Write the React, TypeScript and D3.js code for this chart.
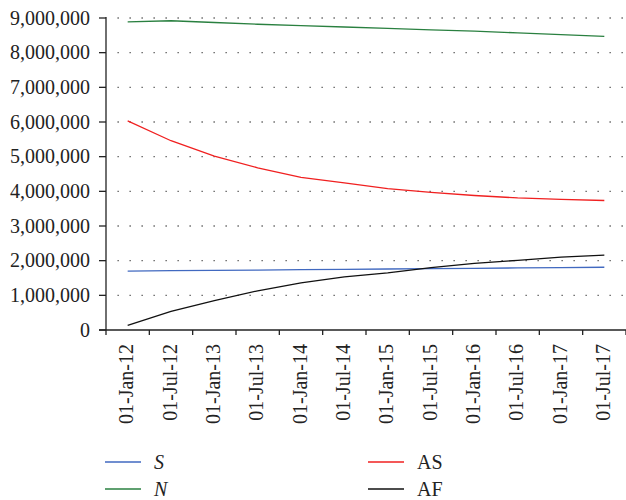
import React from 'react';
import * as d3 from 'd3';

const dates = [
  '01-Jan-12', '01-Jul-12', '01-Jan-13', '01-Jul-13', '01-Jan-14', '01-Jul-14',
  '01-Jan-15', '01-Jul-15', '01-Jan-16', '01-Jul-16', '01-Jan-17', '01-Jul-17',
];

const sValues = [1700000, 1710000, 1720000, 1730000, 1740000, 1750000, 1760000, 1770000, 1780000, 1790000, 1800000, 1810000];
const nValues = [8890000, 8920000, 8870000, 8820000, 8780000, 8740000, 8700000, 8660000, 8620000, 8570000, 8520000, 8470000];
const asValues = [6035000, 5460000, 5016000, 4680000, 4400000, 4245000, 4080000, 3970000, 3880000, 3810000, 3770000, 3735000];
const afValues = [135000, 540000, 850000, 1130000, 1360000, 1530000, 1650000, 1800000, 1920000, 2010000, 2100000, 2160000];

const yTicks = [0, 1000000, 2000000, 3000000, 4000000, 5000000, 6000000, 7000000, 8000000, 9000000];

const series = [
  { name: 'S', values: sValues, color: '#4169c0', italic: true },
  { name: 'N', values: nValues, color: '#2a8040', italic: true },
  { name: 'AS', values: asValues, color: '#f02020', italic: false },
  { name: 'AF', values: afValues, color: '#111111', italic: false },
];

const W = 626;
const H = 500;
const left = 106;
const right = 626;
const top = 18;
const bottom = 330;
const font = '"Liberation Serif", "DejaVu Serif", serif';

export default function App() {
  const x = d3.scalePoint<string>().domain(dates).range([left, right]).padding(0.5);
  const xBand = d3.scaleBand<string>().domain(dates).range([left, right]);
  const y = d3.scaleLinear().domain([0, 9000000]).range([bottom, top]);
  const fmt = d3.format(',');

  const line = d3.line<number>()
    .x((_, i) => x(dates[i]) as number)
    .y(d => y(d));

  const boundaries = dates.map(d => xBand(d) as number).concat([right]);

  // legend positions
  const legend = [
    { s: series[0], lx: 105, ly: 462 },
    { s: series[1], lx: 105, ly: 489 },
    { s: series[2], lx: 368, ly: 462 },
    { s: series[3], lx: 368, ly: 489 },
  ];

  return (
    <svg width={W} height={H} style={{ position: 'absolute', left: 0, top: 0, background: '#fff' }}
      fontFamily={font}>
      {/* dotted gridlines */}
      {yTicks.filter(t => t > 0).map(t => (
        <line key={t} x1={117.5} x2={right} y1={y(t)} y2={y(t)}
          stroke="#555" strokeWidth={1.3} strokeDasharray="1.3 10.7" />
      ))}

      {/* series */}
      {series.map(s => (
        <path key={s.name} d={line(s.values) || ''} fill="none" stroke={s.color} strokeWidth={1.3} />
      ))}

      {/* y axis */}
      <line x1={left} x2={left} y1={top - 1} y2={bottom} stroke="#222" strokeWidth={1.3} />
      {yTicks.map(t => (
        <g key={t}>
          <line x1={left - 7} x2={left} y1={y(t)} y2={y(t)} stroke="#222" strokeWidth={1.3} />
          <text x={90} y={y(t)} dy="0.34em" textAnchor="end" fontSize={20} fill="#222">{fmt(t)}</text>
        </g>
      ))}

      {/* x axis */}
      <line x1={left - 7} x2={right} y1={bottom} y2={bottom} stroke="#222" strokeWidth={1.3} />
      {boundaries.map((b, i) => (
        <line key={i} x1={b} x2={b} y1={bottom} y2={bottom + 5} stroke="#222" strokeWidth={1.3} />
      ))}
      {dates.map(d => (
        <text key={d} transform={`translate(${(x(d) as number) - 1},${bottom + 14}) rotate(-90)`}
          textAnchor="end" dy="0.34em" fontSize={20} fill="#222">{d}</text>
      ))}

      {/* legend */}
      {legend.map(({ s, lx, ly }) => (
        <g key={s.name}>
          <line x1={lx} x2={lx + 36} y1={ly} y2={ly} stroke={s.color} strokeWidth={1.3} />
          <text x={lx + 49} y={ly} dy="0.34em" fontSize={20} fill="#222"
            fontStyle={s.italic ? 'italic' : 'normal'}>{s.name}</text>
        </g>
      ))}
    </svg>
  );
}
